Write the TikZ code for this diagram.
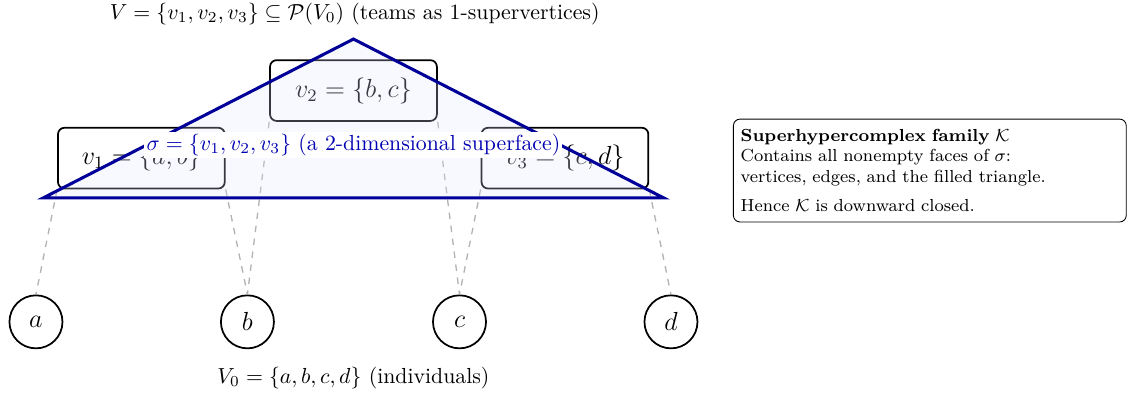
\documentclass[tikz,border=0pt]{standalone}
\usepackage{amsmath}
\usepackage{amssymb}
\usepackage{amsfonts}
\usepackage{xcolor}
\usetikzlibrary{positioning, calc}

\begin{document}
\begin{tikzpicture}[
        team/.style={draw, thick, rounded corners=3pt, minimum width=2.69cm, minimum height=0.98cm, font=\large},
        person/.style={circle, draw, thick, minimum size=0.855cm, font=\large},
        member/.style={dashed, semithick, gray!60}
    ]
        \useasboundingbox (-5.70,-1.21) rectangle (12.49,5.19);

        \foreach \p/\x in {a/-5.12, b/-1.71, c/1.71, d/5.12}
            \node[person] (\p) at (\x,0) {$\p$};

        \node[team] (v1) at (-3.42,2.64) {$v_1 = \{a,b\}$};
        \node[team] (v2) at (0,3.73) {$v_2 = \{b,c\}$};
        \node[team] (v3) at (3.41,2.64) {$v_3 = \{c,d\}$};

        \draw[member] (v1.south west) -- (a.north);
        \draw[member] (v1.south east) -- (b.north);
        \draw[member] (v2.south west) -- (b.north);
        \draw[member] (v2.south east) -- (c.north);
        \draw[member] (v3.south west) -- (c.north);
        \draw[member] (v3.south east) -- (d.north);

        % the filled 2-simplex
        \coordinate (s1) at (-5.0,2.0);
        \coordinate (s2) at (0,4.56);
        \coordinate (s3) at (5.0,2.0);
        \draw[line width=1.4pt, blue!60!black, fill=blue!11, fill opacity=0.25] (s1) -- (s2) -- (s3) -- cycle;

        \node[fill=white, inner sep=1pt, text=blue!70!black] (sigma) at (0,2.85) {$\sigma = \{v_1, v_2, v_3\}$ (a 2-dimensional superface)};

        \node (teams) at (0.02,4.97) {$V = \{v_1, v_2, v_3\} \subseteq \mathcal{P}(V_0)$ (teams as 1-supervertices)};
        \node (people) at (0,-0.90) {$V_0 = \{a, b, c, d\}$ (individuals)};

        \node[draw, rounded corners=3pt, anchor=west, align=left, text width=6.1cm, inner ysep=4.5pt, font=\footnotesize] (family) at (6.12,2.44)
            {\textbf{Superhypercomplex family $\mathcal{K}$}\\
             Contains all nonempty faces of $\sigma$:\\
             vertices, edges, and the filled triangle.\\[4pt]
             Hence $\mathcal{K}$ is downward closed.};
    \end{tikzpicture}
\end{document}
